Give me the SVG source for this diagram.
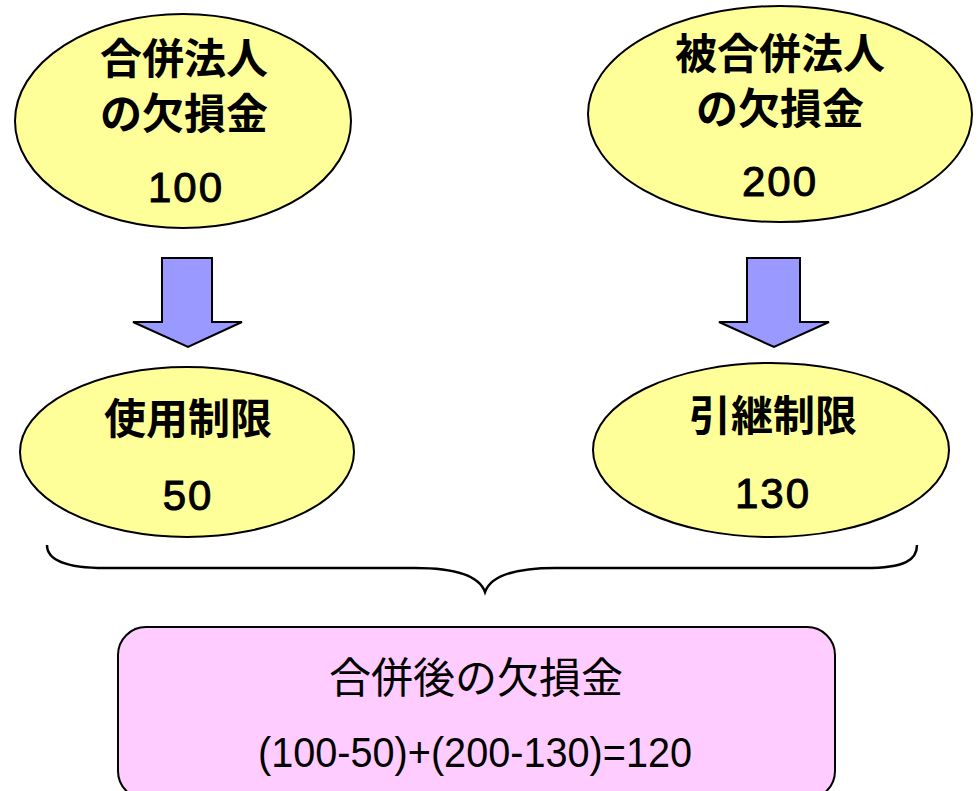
<svg xmlns="http://www.w3.org/2000/svg" width="978" height="791" viewBox="0 0 978 791">
<style>
.ell{fill:#FFFF99;stroke:#000;stroke-width:2}
.arr{fill:#9999FF;stroke:#000;stroke-width:2;stroke-linejoin:miter}
.jp{font-family:"Noto Sans CJK JP","Noto Sans CJK SC",sans-serif;font-size:42px;font-weight:bold;text-anchor:middle;fill:#000}
.num{font-family:"Liberation Sans",Arial,sans-serif;font-size:42px;font-weight:normal;text-anchor:middle;fill:#000;stroke:#000;stroke-width:1;letter-spacing:2px}
.box{fill:#FFCCFF;stroke:#000;stroke-width:2}
.jpn{font-family:"Noto Sans CJK JP","Noto Sans CJK SC",sans-serif;font-size:42px;font-weight:normal;text-anchor:middle;fill:#000}
.brace{fill:none;stroke:#000;stroke-width:2.5}
</style>
<rect width="978" height="791" fill="#fff"/>
<g id="node-merging">
<ellipse class="ell" cx="183" cy="121" rx="168" ry="107"/>
<text class="jp" x="184" y="74">合併法人</text>
<text class="jp" x="184" y="129">の欠損金</text>
<text class="num" x="186" y="202">100</text>
</g>
<g id="node-merged">
<ellipse class="ell" cx="780" cy="114" rx="192" ry="108"/>
<text class="jp" x="780" y="69">被合併法人</text>
<text class="jp" x="780" y="124">の欠損金</text>
<text class="num" x="780" y="196">200</text>
</g>
<g id="node-use-limit">
<ellipse class="ell" cx="187" cy="452" rx="167" ry="85"/>
<text class="jp" x="188" y="434">使用制限</text>
<text class="num" x="188" y="510">50</text>
</g>
<g id="node-carry-limit">
<ellipse class="ell" cx="771" cy="450" rx="178" ry="87"/>
<text class="jp" x="773" y="431">引継制限</text>
<text class="num" x="773" y="508">130</text>
</g>
<g id="node-result">
<rect class="box" x="118" y="627" width="717" height="172" rx="28" ry="28"/>
<text class="jpn" x="476" y="693">合併後の欠損金</text>
<text x="475" y="767" font-family="Liberation Sans,Arial,sans-serif" font-size="43" text-anchor="middle" textLength="434" lengthAdjust="spacingAndGlyphs">(100-50)+(200-130)=120</text>
</g>
<g id="connectors">
<polygon class="arr" points="162,258 212,258 212,322 242,322 188,347 133,322 162,322"/>
<polygon class="arr" points="747,258 800,258 800,322 829,322 774,347 719,322 747,322"/>
<path class="brace" d="M47,545 C47,560 65,568 105,568 L415,568 C460,568 480,578 485,592 C490,578 510,568 555,568 L865,568 C905,568 917,560 917,545"/>
</g>
</svg>
